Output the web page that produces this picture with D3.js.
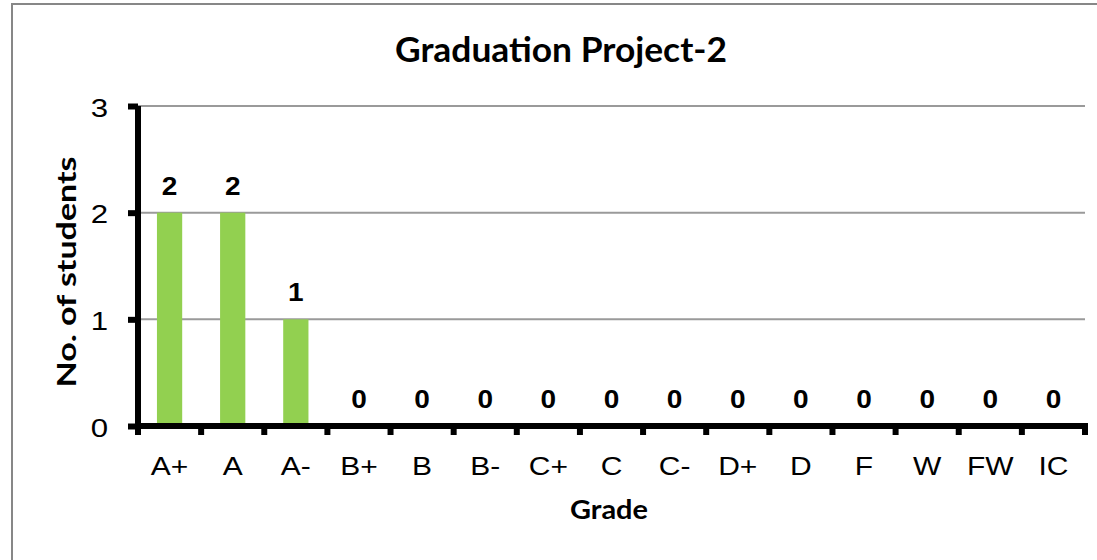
<!DOCTYPE html>
<html>
<head>
<meta charset="utf-8">
<script src="https://cdn.jsdelivr.net/npm/d3@7"></script>
<style>
  body { margin: 0; background: #fff; }
  svg { display: block; }
</style>
</head>
<body>
<div id="chart-container"></div>
<script>
// chart data
var grades = ["A+", "A", "A-", "B+", "B", "B-", "C+", "C", "C-", "D+", "D", "F", "W", "FW", "IC"];
var students = [2, 2, 1, 0, 0, 0, 0, 0, 0, 0, 0, 0, 0, 0, 0];
var yTicks = [0, 1, 2, 3];

var W = 1097, H = 560;
var margin = { top: 106, right: 12, bottom: 134, left: 138 },
    width = W - margin.left - margin.right,
    height = H - margin.top - margin.bottom;

var svg = d3.select("#chart-container").append("svg")
    .attr("width", W)
    .attr("height", H);

// chart area border (right and bottom run off the picture)
svg.append("rect")
    .attr("x", 12).attr("y", 4)
    .attr("width", W + 20).attr("height", H + 20)
    .attr("fill", "none")
    .attr("stroke", "#878787")
    .attr("stroke-width", 2);

var g = svg.append("g")
    .attr("transform", "translate(" + margin.left + "," + margin.top + ")");

var x = d3.scaleBand()
    .domain(grades)
    .range([0, width])
    .padding(0);

var y = d3.scaleLinear()
    .domain([0, 3])
    .range([height, 0]);

// gridlines
g.selectAll(".grid")
    .data(yTicks.filter(function (d) { return d > 0; }))
    .enter().append("line")
    .attr("class", "grid")
    .attr("x1", 0).attr("x2", width)
    .attr("y1", function (d) { return y(d); })
    .attr("y2", function (d) { return y(d); })
    .attr("stroke", "#9a9a9a")
    .attr("stroke-width", 2);

// bars
var barW = x.bandwidth() * 0.4;
g.selectAll(".bar")
    .data(grades)
    .enter().append("rect")
    .attr("class", "bar")
    .attr("x", function (d) { return x(d) + (x.bandwidth() - barW) / 2; })
    .attr("width", barW)
    .attr("y", function (d, i) { return y(students[i]); })
    .attr("height", function (d, i) { return height - y(students[i]); })
    .attr("fill", "#92d050");

// value labels
g.selectAll(".val")
    .data(grades)
    .enter().append("text")
    .attr("class", "val")
    .attr("transform", function (d, i) {
        return "translate(" + (x(d) + x.bandwidth() / 2) + "," + (y(students[i]) - 18) + ") scale(1.12,1)";
    })
    .attr("text-anchor", "middle")
    .style("font-family", "'Liberation Sans', Arial, sans-serif")
    .style("font-weight", "bold")
    .style("font-size", "25px")
    .text(function (d, i) { return students[i]; });

// y axis
var yAxis = g.append("g")
    .call(d3.axisLeft(y).tickValues(yTicks).tickFormat(d3.format("d")).tickSize(10).tickPadding(0));
yAxis.select(".domain").remove();
yAxis.selectAll(".tick line").attr("stroke", "#000").attr("stroke-width", 6);
yAxis.selectAll(".tick text")
    .attr("x", null).attr("dy", null)
    .attr("transform", "translate(-30,10) scale(1.2,1)")
    .style("font-family", "'Liberation Sans', Arial, sans-serif")
    .style("font-size", "26px")
    .attr("fill", "#000");

// x axis labels
var xAxis = g.append("g")
    .attr("transform", "translate(0," + height + ")")
    .call(d3.axisBottom(x).tickSize(0));
xAxis.select(".domain").remove();
xAxis.selectAll(".tick text")
    .attr("y", null).attr("dy", null)
    .attr("transform", "translate(0,49) scale(1.2,1)")
    .style("font-family", "'Liberation Sans', Arial, sans-serif")
    .style("font-size", "25px")
    .attr("fill", "#000");

// category boundary ticks
var bounds = grades.map(function (d) { return x(d); }).concat([width]);
g.selectAll(".btick")
    .data(bounds)
    .enter().append("line")
    .attr("class", "btick")
    .attr("x1", function (d) { return d; })
    .attr("x2", function (d) { return d; })
    .attr("y1", height).attr("y2", height + 9)
    .attr("stroke", "#000")
    .attr("stroke-width", 6);

// axis lines
g.append("line")
    .attr("x1", 0).attr("x2", 0)
    .attr("y1", 0).attr("y2", height + 9)
    .attr("stroke", "#000").attr("stroke-width", 6);
g.append("line")
    .attr("x1", -3).attr("x2", width + 3)
    .attr("y1", height).attr("y2", height)
    .attr("stroke", "#000").attr("stroke-width", 6);

// titles
svg.append("text")
    .attr("x", 561).attr("y", 62)
    .attr("text-anchor", "middle")
    .attr("textLength", 332)
    .attr("lengthAdjust", "spacingAndGlyphs")
    .style("font-family", "Lato, 'Open Sans', sans-serif")
    .style("font-weight", "bold")
    .style("font-size", "34px")
    .text("Graduation Project-2");

svg.append("text")
    .attr("x", 609).attr("y", 519)
    .attr("text-anchor", "middle")
    .attr("textLength", 78)
    .attr("lengthAdjust", "spacingAndGlyphs")
    .style("font-family", "Lato, 'Open Sans', sans-serif")
    .style("font-weight", "bold")
    .style("font-size", "27px")
    .text("Grade");

svg.append("text")
    .attr("transform", "translate(76,272) rotate(-90)")
    .attr("text-anchor", "middle")
    .attr("textLength", 231)
    .attr("lengthAdjust", "spacingAndGlyphs")
    .style("font-family", "Lato, 'Open Sans', sans-serif")
    .style("font-weight", "bold")
    .style("font-size", "27px")
    .text("No. of students");
</script>
</body>
</html>
